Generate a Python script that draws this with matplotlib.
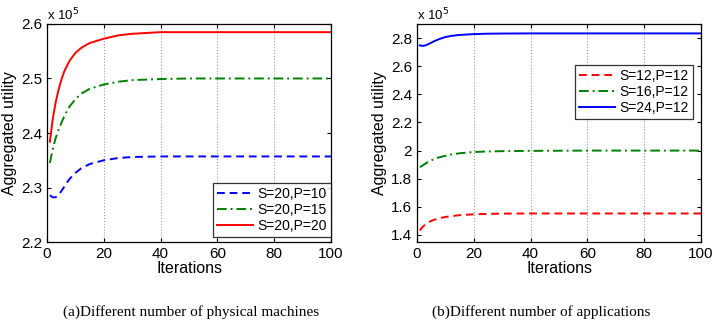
import matplotlib
matplotlib.use("Agg")
import matplotlib.pyplot as plt

# iteration samples (in units of 1e5)
iters = [1, 2, 3, 4, 5, 6, 7, 8, 10, 12, 15, 20, 25, 30, 40, 50, 60, 70, 80, 90, 100]

# (a) different number of physical machines
machines_p10 = [2.286, 2.282, 2.282, 2.286, 2.293, 2.301, 2.309, 2.316, 2.327, 2.335, 2.343,
                2.350, 2.354, 2.356, 2.357, 2.357, 2.357, 2.357, 2.357, 2.357, 2.357]
machines_p15 = [2.345, 2.370, 2.390, 2.405, 2.418, 2.430, 2.440, 2.449, 2.462, 2.472, 2.481,
                2.489, 2.494, 2.497, 2.499, 2.500, 2.500, 2.500, 2.500, 2.500, 2.500]
machines_p20 = [2.384, 2.425, 2.455, 2.478, 2.497, 2.512, 2.523, 2.533, 2.547, 2.556, 2.565,
                2.573, 2.579, 2.582, 2.585, 2.585, 2.585, 2.585, 2.585, 2.585, 2.585]

# (b) different number of applications
apps_s12 = [1.432, 1.458, 1.476, 1.490, 1.500, 1.508, 1.514, 1.520, 1.528, 1.534, 1.541,
            1.547, 1.550, 1.552, 1.553, 1.553, 1.553, 1.553, 1.553, 1.553, 1.553]
apps_s16 = [1.882, 1.895, 1.908, 1.920, 1.930, 1.940, 1.947, 1.953, 1.963, 1.972, 1.981,
            1.990, 1.994, 1.996, 1.998, 1.999, 2.000, 2.000, 2.000, 2.000, 2.000]
apps_s24 = [2.748, 2.744, 2.748, 2.757, 2.767, 2.777, 2.786, 2.794, 2.807, 2.815, 2.822,
            2.828, 2.831, 2.832, 2.833, 2.833, 2.833, 2.833, 2.833, 2.833, 2.833]

labels_a = ["S=20,P=10", "S=20,P=15", "S=20,P=20"]
labels_b = ["S=12,P=12", "S=16,P=12", "S=24,P=12"]
xticks = [0, 20, 40, 60, 80, 100]

plt.rcParams["font.family"] = ["Liberation Sans", "DejaVu Sans"]

fig = plt.figure(figsize=(7.19, 3.24), dpi=100)
ax1 = fig.add_axes([0.0654, 0.253, 0.395, 0.673])
ax2 = fig.add_axes([0.580, 0.253, 0.395, 0.673])

blue, green, red = "#0000ff", "#008000", "#ff0000"
lw = 1.4
dashed = (0, (4, 2.5))
dashdot = (0, (5, 2, 1, 2))

ax1.plot(iters, machines_p10, linestyle=dashed, color=blue, lw=lw, label=labels_a[0])
ax1.plot(iters, machines_p15, linestyle=dashdot, color=green, lw=lw, label=labels_a[1])
ax1.plot(iters, machines_p20, "-", color=red, lw=lw, label=labels_a[2])
ax1.set_ylim(2.2, 2.6)
ax1.set_yticks([2.2, 2.3, 2.4, 2.5, 2.6])

ax2.plot(iters, apps_s12, linestyle=dashed, color=red, lw=lw, label=labels_b[0])
ax2.plot(iters, apps_s16, linestyle=dashdot, color=green, lw=lw, label=labels_b[1])
ax2.plot(iters, apps_s24, "-", color=blue, lw=lw, label=labels_b[2])
ax2.set_ylim(1.35, 2.9)
ax2.set_yticks([1.4, 1.6, 1.8, 2.0, 2.2, 2.4, 2.6, 2.8])
ax2.set_yticklabels(["1.4", "1.6", "1.8", "2", "2.2", "2.4", "2.6", "2.8"])

for ax in (ax1, ax2):
    ax.set_xlim(0, 100)
    ax.set_xticks(xticks)
    ax.grid(axis="x", linestyle=":", color="0.6", lw=0.8)
    ax.tick_params(direction="in", top=True, right=True, labelsize=11, length=3)
    for sp in ax.spines.values():
        sp.set_linewidth(0.9)
    ax.set_xlabel("Iterations", fontsize=11.5, labelpad=0)
    ax.set_ylabel("Aggregated utility", fontsize=11.5, labelpad=3)
    ax.text(0.0, 1.005, r"x 10$^5$", transform=ax.transAxes, ha="left", va="bottom",
            fontsize=9.5)

leg_kw = dict(fontsize=10, frameon=True, fancybox=False, edgecolor="black",
              handlelength=2.6, handletextpad=0.3, labelspacing=0.15,
              borderpad=0.3, borderaxespad=0)
l1 = ax1.legend(loc="lower right", bbox_to_anchor=(1.0, 0.022), **leg_kw)
l2 = ax2.legend(loc="upper right", bbox_to_anchor=(0.972, 0.812), **leg_kw)
for leg in (l1, l2):
    leg.get_frame().set_linewidth(0.9)

cap_font = ["Liberation Serif", "DejaVu Serif"]
fig.text(0.266, 0.037, "(a)Different number of physical machines", ha="center",
         va="center", fontsize=11, family=cap_font)
fig.text(0.752, 0.037, "(b)Different number of applications", ha="center",
         va="center", fontsize=11, family=cap_font)

fig.savefig("out.png", dpi=100, facecolor="white")
